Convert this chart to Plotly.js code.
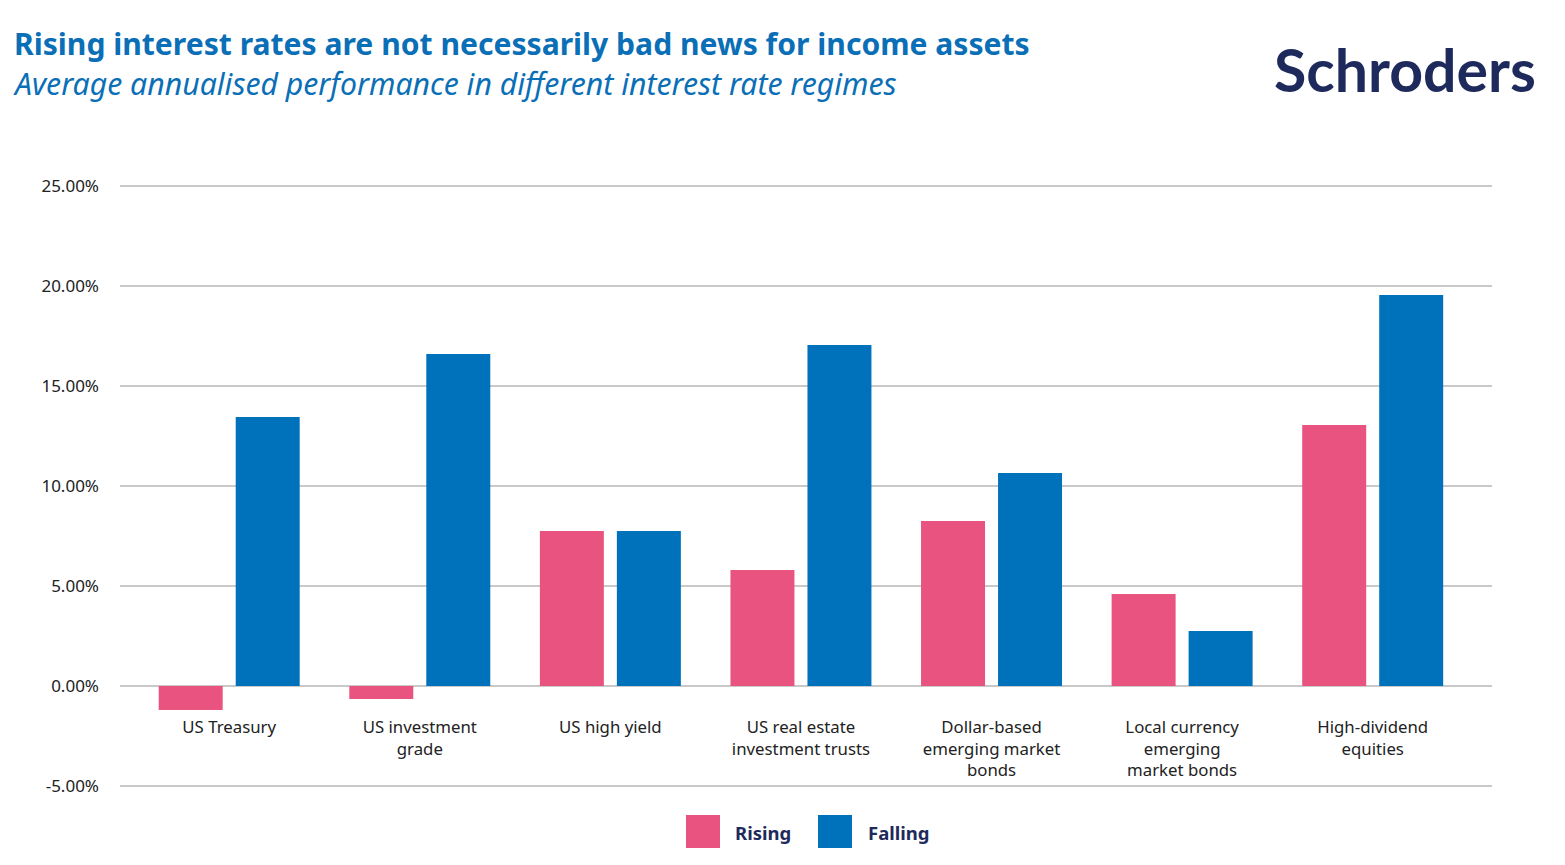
<!DOCTYPE html>
<html>
<head>
<meta charset="utf-8">
<script src="https://cdn.plot.ly/plotly-3.0.1.min.js"></script>
<style>
  html, body { margin: 0; padding: 0; background: #fff; }
  #chart { width: 1565px; height: 865px; }
</style>
</head>
<body>
<div id="chart"></div>
<script>
// asset classes, x axis
var categories = [
    'US Treasury',
    'US investment<br>grade',
    'US high yield',
    'US real estate<br>investment trusts',
    'Dollar-based<br>emerging market<br>bonds',
    'Local currency<br>emerging<br>market bonds',
    'High-dividend<br>equities'
];

// average annualised performance, %
var rising  = [-1.2, -0.65, 7.75, 5.8, 8.25, 4.6, 13.05];
var falling = [13.45, 16.6, 7.75, 17.05, 10.65, 2.75, 19.55];

var yTicks = [-5, 0, 5, 10, 15, 20, 25];
var yTickText = yTicks.map(function (v) { return v.toFixed(2) + '%'; });

var pink = '#e8537f';
var blue = '#0071bb';
var navy = '#1d2a5b';

var W = 1565, H = 865;
var M = { l: 120, r: 73, t: 183, b: 76 };

// pixel -> paper helpers for the text and legend bits
function px(x) { return (x - M.l) / (W - M.l - M.r); }
function py(y) { return (H - M.b - y) / (H - M.t - M.b); }

var traceRising = {
    x: categories,
    y: rising,
    name: 'Rising',
    type: 'bar',
    marker: { color: pink },
    hoverinfo: 'skip'
};
var traceFalling = {
    x: categories,
    y: falling,
    name: 'Falling',
    type: 'bar',
    marker: { color: blue },
    hoverinfo: 'skip'
};

var data = [traceRising, traceFalling];

var layout = {
    width: W,
    height: H,
    margin: M,
    paper_bgcolor: '#fff',
    plot_bgcolor: '#fff',
    font: { family: '"Noto Sans", "Open Sans", sans-serif', color: '#222', size: 16 },
    barmode: 'group',
    bargap: 0.192,
    bargroupgap: 0.169,
    showlegend: false,
    xaxis: {
        type: 'category',
        range: [-0.573, 6.626],
        anchor: 'free',
        position: py(686),
        showline: false,
        showgrid: false,
        zeroline: false,
        ticks: '',
        ticklabelstandoff: 29,
        tickfont: { size: 16.8, color: '#222' },
        fixedrange: true
    },
    yaxis: {
        range: [-5.15, 25.15],
        tickvals: yTicks,
        ticktext: yTickText,
        showgrid: true,
        gridcolor: '#c9c9c9',
        gridwidth: 1.3,
        zeroline: true,
        zerolinecolor: '#c9c9c9',
        zerolinewidth: 1.3,
        showline: false,
        ticks: '',
        ticklabelstandoff: 20,
        tickfont: { size: 17, color: '#222' },
        fixedrange: true
    },
    shapes: [
        { type: 'rect', xref: 'paper', yref: 'paper', x0: px(686), x1: px(720), y0: py(848), y1: py(815),
          fillcolor: pink, line: { width: 0 } },
        { type: 'rect', xref: 'paper', yref: 'paper', x0: px(818), x1: px(852), y0: py(848), y1: py(815),
          fillcolor: blue, line: { width: 0 } }
    ],
    annotations: [
        { xref: 'paper', yref: 'paper', x: px(12), y: py(43.5), xanchor: 'left', yanchor: 'middle',
          text: '<b>Rising interest rates are not necessarily bad news for income assets</b>',
          showarrow: false, font: { size: 30.1, color: '#0a6fb6' } },
        { xref: 'paper', yref: 'paper', x: px(11), y: py(83.5), xanchor: 'left', yanchor: 'middle',
          text: '<i>Average annualised performance in different interest rate regimes</i>',
          showarrow: false, font: { size: 30.2, color: '#0a6fb6' } },
        { xref: 'paper', yref: 'paper', x: px(1538), y: py(70), xanchor: 'right', yanchor: 'middle',
          text: '<b>Schroders</b>', showarrow: false,
          font: { family: 'Lato, "Noto Sans", sans-serif', size: 59, color: navy } },
        { xref: 'paper', yref: 'paper', x: px(733), y: py(832), xanchor: 'left', yanchor: 'middle',
          text: '<b>Rising</b>', showarrow: false, font: { size: 18.5, color: navy } },
        { xref: 'paper', yref: 'paper', x: px(866), y: py(832), xanchor: 'left', yanchor: 'middle',
          text: '<b>Falling</b>', showarrow: false, font: { size: 18.5, color: navy } }
    ]
};

Plotly.newPlot('chart', data, layout, { staticPlot: true, displayModeBar: false });
</script>
</body>
</html>
